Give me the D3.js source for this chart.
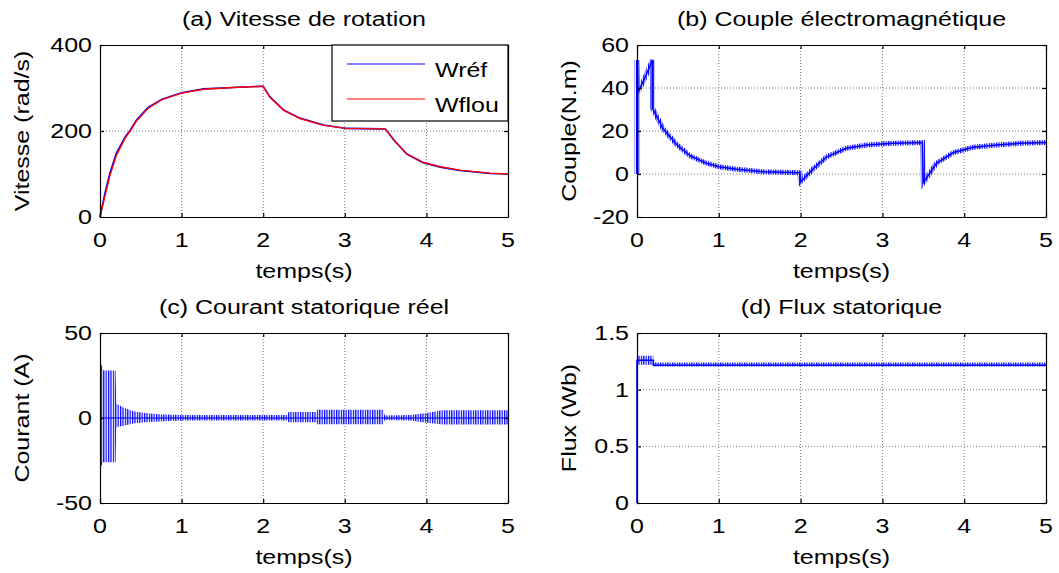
<!DOCTYPE html>
<html>
<head>
<meta charset="utf-8">
<script src="https://cdn.jsdelivr.net/npm/d3@7"></script>
<style>
  body { margin: 0; background: #fff; }
  text { font-family: "Liberation Sans", Arial, sans-serif; fill: #000; }
</style>
</head>
<body>
<svg id="fig" width="1059" height="573"></svg>
<script>
// ---- data ----
var xTicks = [0, 1, 2, 3, 4, 5];

// (a) speed
var speedT = [0, 0.06, 0.12, 0.2, 0.31, 0.37, 0.45, 0.59, 0.76, 1.0, 1.27, 1.63, 1.98, 2.0, 2.08, 2.25, 2.45, 2.74, 3.02, 3.47, 3.5, 3.6, 3.76, 3.96, 4.17, 4.41, 4.78, 5.0];
var wRef  = [0, 55, 101, 148, 187, 202, 226, 255, 274, 289, 298, 301, 304, 304, 280, 249, 230, 214, 206, 205, 204, 179, 146, 126, 116, 108, 101, 100];
var wFlou = [0, 48, 95, 143, 184, 200, 224, 253, 273, 288, 297, 301, 304, 303, 279, 248, 229, 213, 206, 205, 204, 180, 147, 127, 117, 109, 102, 100];
var speedTicks = [0, 200, 400];

// (b) torque
var torqueT = [0, 0, 0.01, 0.1, 0.19, 0.19, 0.32, 0.49, 0.65, 0.85, 1.0, 1.22, 1.54, 1.99, 2.0, 2.16, 2.32, 2.56, 2.81, 3.13, 3.49, 3.5, 3.66, 3.87, 4.11, 4.4, 4.68, 5.0];
var torque  = [0, 53, 38, 45, 53, 30.5, 21, 13.5, 8.4, 5, 3.4, 2.2, 1.1, 0.6, -3.6, 2.6, 8, 12, 13.5, 14.3, 14.6, -4, 5, 10, 12.4, 13.5, 14.3, 14.6];
var torqueTicks = [-20, 0, 20, 40, 60];

// (c) stator current, oscillation envelope
var curT  = [0, 0.03, 0.04, 0.19, 0.2, 0.29, 0.41, 0.55, 0.73, 1.0, 2.3, 2.31, 2.65, 2.66, 3.47, 3.49, 3.8, 4.0, 4.2, 5.0];
var curHi = [31, 31, 28, 28, 8.5, 6, 4, 3, 2.2, 1.8, 1.8, 3.5, 3.5, 4.9, 4.9, 1.5, 1.8, 3, 4.5, 4.5];
var curLo = [-28, -28, -26, -26, -5.5, -4.5, -3.3, -2.5, -2, -1.5, -1.5, -2.5, -2.5, -3.7, -3.7, -1.2, -1.5, -2.8, -3.8, -3.8];
var curTicks = [-50, 0, 50];

// (d) stator flux
var fluxT = [0, 0, 0.2, 0.2, 5];
var flux  = [0, 1.26, 1.26, 1.215, 1.215];
var fluxBandT  = [0, 0.2, 0.2, 5];
var fluxBandHi = [1.3, 1.3, 1.24, 1.24];
var fluxBandLo = [1.22, 1.22, 1.205, 1.205];
var fluxTicks = [0, 0.5, 1, 1.5];

var svg = d3.select('#fig');
var SX = 1.25, FS = 20;

// vertical hatching to look like a dense oscillation
var defs = svg.append('defs');
var pat = defs.append('pattern').attr('id', 'osc')
  .attr('patternUnits', 'userSpaceOnUse').attr('width', 2.4).attr('height', 10);
pat.append('rect').attr('width', 1.2).attr('height', 10).attr('fill', '#0000ff');

function label(g, x, y, str, anchor, rot) {
  var t = g.append('text')
    .attr('transform', 'translate(' + x + ',' + y + ')' + (rot ? ' rotate(-90)' : '') + ' scale(' + SX + ',1)')
    .attr('font-size', FS)
    .attr('text-anchor', anchor || 'middle')
    .text(str);
  return t;
}

function panel(box, yDomain, yTicks, title, ylab, ylabX) {
  var x = d3.scaleLinear().domain([0, 5]).range([box.x0, box.x1]);
  var y = d3.scaleLinear().domain(yDomain).range([box.y1, box.y0]);
  var g = svg.append('g');

  // grid
  g.selectAll('.gx').data(xTicks.slice(1, -1)).enter().append('line')
    .attr('x1', function (d) { return x(d); }).attr('x2', function (d) { return x(d); })
    .attr('y1', box.y0).attr('y2', box.y1)
    .attr('stroke', '#7a7a7a').attr('stroke-dasharray', '1,2');
  g.selectAll('.gy').data(yTicks.slice(1, -1)).enter().append('line')
    .attr('y1', function (d) { return y(d); }).attr('y2', function (d) { return y(d); })
    .attr('x1', box.x0).attr('x2', box.x1)
    .attr('stroke', '#7a7a7a').attr('stroke-dasharray', '1,2');

  var plot = g.append('g');

  // axes: inward ticks on all four sides
  var ax = g.append('g');
  ax.append('g').attr('transform', 'translate(0,' + box.y1 + ')')
    .call(d3.axisBottom(x).tickValues(xTicks).tickSizeInner(-4).tickSizeOuter(0).tickFormat(''));
  ax.append('g').attr('transform', 'translate(0,' + box.y0 + ')')
    .call(d3.axisTop(x).tickValues(xTicks).tickSizeInner(-4).tickSizeOuter(0).tickFormat(''));
  ax.append('g').attr('transform', 'translate(' + box.x0 + ',0)')
    .call(d3.axisLeft(y).tickValues(yTicks).tickSizeInner(-4).tickSizeOuter(0).tickFormat(''));
  ax.append('g').attr('transform', 'translate(' + box.x1 + ',0)')
    .call(d3.axisRight(y).tickValues(yTicks).tickSizeInner(-4).tickSizeOuter(0).tickFormat(''));
  ax.selectAll('path, line').attr('stroke', '#000').attr('stroke-width', 1.2);

  // tick labels
  xTicks.forEach(function (d) { label(g, x(d), box.y1 + 30, String(d), 'middle'); });
  yTicks.forEach(function (d) { label(g, box.x0 - 8, y(d) + 7, String(d), 'end'); });

  label(g, (box.x0 + box.x1) / 2, box.y0 - 19, title, 'middle');
  label(g, (box.x0 + box.x1) / 2, box.y1 + 61, 'temps(s)', 'middle');
  label(g, ylabX, (box.y0 + box.y1) / 2, ylab, 'middle', true);

  return { x: x, y: y, g: plot };
}

// (a)
var pa = panel({x0: 100, x1: 508, y0: 45, y1: 217}, [0, 400], speedTicks, '(a) Vitesse de rotation', 'Vitesse (rad/s)', 29);
var lineA = d3.line().x(function (d) { return pa.x(d[0]); }).y(function (d) { return pa.y(d[1]); });
pa.g.append('path').datum(d3.zip(speedT, wRef)).attr('d', lineA)
  .attr('fill', 'none').attr('stroke', '#0000ff').attr('stroke-width', 1.6);
pa.g.append('path').datum(d3.zip(speedT, wFlou)).attr('d', lineA)
  .attr('fill', 'none').attr('stroke', '#ff0000').attr('stroke-width', 1.4);

// legend
var leg = svg.append('g');
leg.append('rect').attr('x', 332).attr('y', 45).attr('width', 176).attr('height', 76)
  .attr('fill', '#fff').attr('stroke', '#000').attr('stroke-width', 1.2);
[['Wréf', '#0000ff', 64], ['Wflou', '#ff0000', 99]].forEach(function (s) {
  leg.append('line').attr('x1', 347).attr('x2', 425).attr('y1', s[2]).attr('y2', s[2])
    .attr('stroke', s[1]).attr('stroke-width', 1.2);
  label(leg, 435, s[2] + 13, s[0], 'start');
});

// (b) - hatched halo for the switching ripple, then the mean line
var pb = panel({x0: 637, x1: 1046, y0: 45, y1: 217}, [-20, 60], torqueTicks, '(b) Couple électromagnétique', 'Couple(N.m)', 576);
var lineB = d3.line().x(function (d) { return pb.x(d[0]); }).y(function (d) { return pb.y(d[1]); });
pb.g.append('path').datum(d3.zip(torqueT, torque)).attr('d', lineB)
  .attr('fill', 'none').attr('stroke', 'url(#osc)').attr('stroke-width', 5);
pb.g.append('path').datum(d3.zip(torqueT, torque)).attr('d', lineB)
  .attr('fill', 'none').attr('stroke', '#0000ff').attr('stroke-width', 1.5);

// (c)
var pc = panel({x0: 100, x1: 508, y0: 333, y1: 503}, [-50, 50], curTicks, '(c) Courant statorique réel', 'Courant (A)', 29);
var areaC = d3.area().x(function (d) { return pc.x(d[0]); })
  .y0(function (d) { return pc.y(d[2]); }).y1(function (d) { return pc.y(d[1]); });
pc.g.append('path').datum(d3.zip(curT, curHi, curLo)).attr('d', areaC)
  .attr('fill', 'url(#osc)');
pc.g.append('line').attr('x1', pc.x(0)).attr('x2', pc.x(5)).attr('y1', pc.y(0)).attr('y2', pc.y(0))
  .attr('stroke', '#0000ff').attr('stroke-width', 1);

// (d)
var pd = panel({x0: 637, x1: 1046, y0: 333, y1: 503}, [0, 1.5], fluxTicks, '(d) Flux statorique', 'Flux (Wb)', 576);
var areaD = d3.area().x(function (d) { return pd.x(d[0]); })
  .y0(function (d) { return pd.y(d[2]); }).y1(function (d) { return pd.y(d[1]); });
pd.g.append('path').datum(d3.zip(fluxBandT, fluxBandHi, fluxBandLo)).attr('d', areaD)
  .attr('fill', 'url(#osc)');
var lineD = d3.line().x(function (d) { return pd.x(d[0]); }).y(function (d) { return pd.y(d[1]); });
pd.g.append('path').datum(d3.zip(fluxT, flux)).attr('d', lineD)
  .attr('fill', 'none').attr('stroke', '#0000ff').attr('stroke-width', 1.6);
</script>
</body>
</html>
